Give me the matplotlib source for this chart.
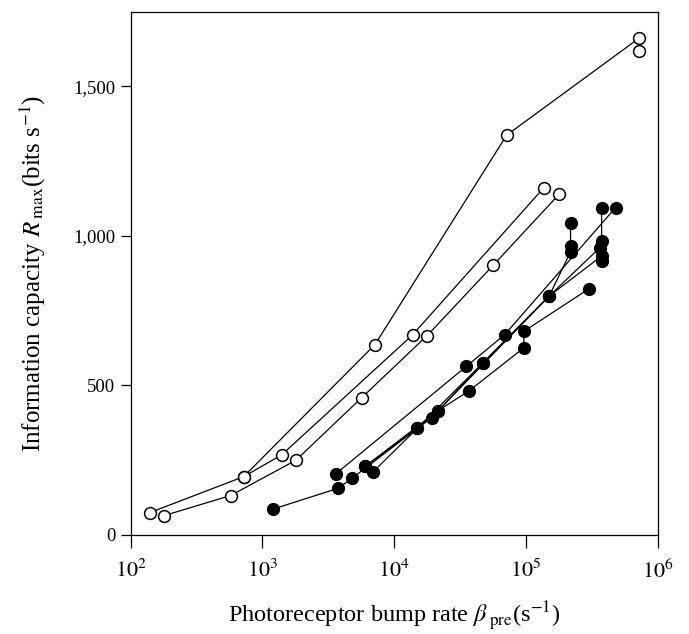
import matplotlib
matplotlib.use("Agg")
import matplotlib.pyplot as plt
from matplotlib.ticker import FixedLocator, NullLocator

plt.rcParams['font.family'] = ['Liberation Serif', 'DejaVu Serif']
plt.rcParams['mathtext.fontset'] = 'stix'

# open circles: three runs
open1_x = [140, 720, 7150, 71300, 719000, 719000]
open1_y = [75, 195, 637, 1337, 1661, 1620]
open2_x = [720, 1400, 13770, 137000]
open2_y = [195, 268, 669, 1162]
open3_x = [180, 574, 1795, 5660, 17800, 56400, 178000]
open3_y = [65, 132, 250, 459, 667, 902, 1139]

# filled circles: tangled runs in the lower right
fill1_x = [3590, 35300, 69000, 479000]
fill1_y = [204, 564, 670, 1095]
fill2_x = [1210, 3750, 4800, 15000, 21600, 37000, 96400, 96400, 302000]
fill2_y = [87, 156, 190, 357, 416, 482, 626, 681, 824]
fill3_x = [6000, 19200, 47000, 150000, 218000, 218000, 218000]
fill3_y = [229, 391, 575, 799, 947, 966, 1044]
fill4_x = [6940, 15000, 47000, 150000, 375000, 375000]
fill4_y = [212, 357, 575, 799, 933, 916]
fill5_x = [6000, 21600, 150000, 364000, 375000, 375000]
fill5_y = [229, 416, 799, 961, 983, 1095]

open_runs = [(open1_x, open1_y), (open2_x, open2_y), (open3_x, open3_y)]
fill_runs = [(fill1_x, fill1_y), (fill2_x, fill2_y), (fill3_x, fill3_y),
             (fill4_x, fill4_y), (fill5_x, fill5_y)]

xticks = [1e2, 1e3, 1e4, 1e5, 1e6]
xtick_labels = ['$10^{2}$', '$10^{3}$', '$10^{4}$', '$10^{5}$', '$10^{6}$']
yticks = [0, 500, 1000, 1500]
ytick_labels = ['0', '500', '1,000', '1,500']

fig = plt.figure(figsize=(6.89, 6.34), dpi=100)
ax = fig.add_axes([0.1897, 0.1562, 0.7649, 0.8253])

for xs, ys in fill_runs:
    ax.plot(xs, ys, color='black', lw=0.9, marker='o', ms=8.5,
            mfc='black', mec='black', zorder=2)
for xs, ys in open_runs:
    ax.plot(xs, ys, color='black', lw=0.9, marker='o', ms=8.5,
            mfc='white', mec='black', mew=1.1, zorder=3)

ax.set_xscale('log')
ax.set_xlim(100, 1e6)
ax.set_ylim(0, 1750)
ax.xaxis.set_major_locator(FixedLocator(xticks))
ax.xaxis.set_minor_locator(NullLocator())
ax.set_xticklabels(xtick_labels, fontsize=16)
ax.set_yticks(yticks)
ax.set_yticklabels(ytick_labels, fontsize=13.5)
ax.tick_params(axis='x', direction='out', length=9, width=0.9, pad=9)
ax.tick_params(axis='y', direction='out', length=7, width=0.9, pad=4)
for sp in ax.spines.values():
    sp.set_linewidth(0.9)

ax.set_xlabel(r'Photoreceptor bump rate $\beta_{\;\mathrm{pre}}$(s$^{-1}$)', fontsize=17.5, labelpad=12)
ax.set_ylabel(r'Information capacity $R_{\;\mathrm{max}}$(bits s$^{-1}$)', fontsize=18, labelpad=18)

fig.savefig('out.png', dpi=100)
